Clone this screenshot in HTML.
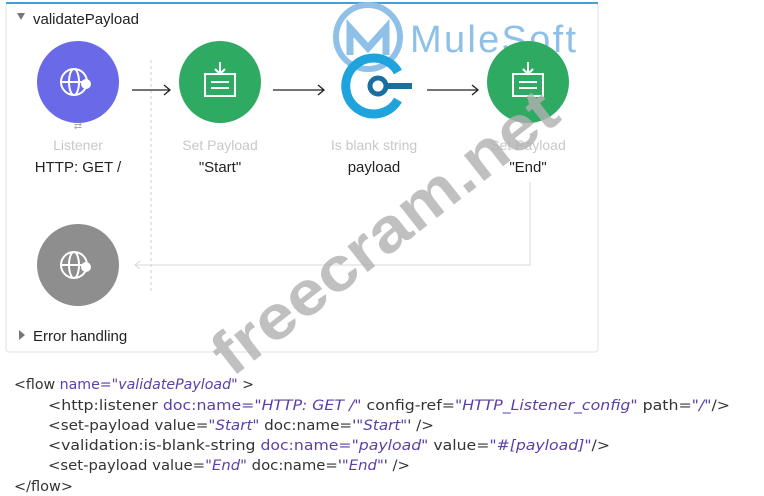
<!DOCTYPE html>
<html><head><meta charset="utf-8"><style>
html,body{margin:0;padding:0;background:#fff;}
svg{display:block}
.t{font-family:"Liberation Sans",sans-serif}
.c{font-family:"DejaVu Sans Condensed","Liberation Sans Narrow","Liberation Sans",sans-serif;font-size:14px}
</style></head><body>
<svg width="764" height="496" viewBox="0 0 764 496" xmlns="http://www.w3.org/2000/svg">
<rect x="6" y="3" width="592" height="349" rx="3" fill="#fff" stroke="#e2e2e2"/>
<line x1="6" y1="3" x2="598" y2="3" stroke="#4a9ed8" stroke-width="2"/>
<path d="M17 13 L25 13 L21 20 Z" fill="#777"/>
<text x="33" y="24" class="t" font-size="15" fill="#222">validatePayload</text>
<circle cx="368" cy="37" r="32" fill="none" stroke="#8fc0e8" stroke-width="6"/>
<path d="M350 55 L350 28 L368 48 L386 28 L386 55" fill="none" stroke="#8fc0e8" stroke-width="7"/>
<text x="410" y="52" class="t" font-size="38" fill="#8fc0e8" textLength="166">MuleSoft</text>
<line x1="151" y1="60" x2="151" y2="292" stroke="#ccc" stroke-dasharray="3,3"/>
<circle cx="78" cy="82" r="41" fill="#6a6ae8"/>
<circle cx="74" cy="82" r="13" fill="none" stroke="#fff" stroke-width="2"/>
<ellipse cx="74" cy="82" rx="5" ry="13" fill="none" stroke="#fff" stroke-width="2"/>
<line x1="61" y1="82" x2="87" y2="82" stroke="#fff" stroke-width="2"/>
<circle cx="86" cy="84" r="5" fill="#fff"/>
<text x="78" y="129" class="t" font-size="10" fill="#aaa" text-anchor="middle">⇄</text>
<circle cx="220" cy="82" r="41" fill="#2faa62"/>
<rect x="205" y="74" width="30" height="22" fill="none" stroke="#fff" stroke-width="2"/>
<line x1="211" y1="82" x2="229" y2="82" stroke="#fff" stroke-width="2"/>
<line x1="211" y1="88" x2="229" y2="88" stroke="#fff" stroke-width="2"/>
<path d="M220 62 L220 74 M215 69 L220 74 L225 69" stroke="#fff" stroke-width="2" fill="none"/>
<path d="M398 72 A28 28 0 1 0 398 100" fill="none" stroke="#1fa3dc" stroke-width="9"/>
<circle cx="378" cy="86" r="8" fill="#fff" stroke="#1a6fa0" stroke-width="5"/>
<line x1="386" y1="86" x2="412" y2="86" stroke="#1a6fa0" stroke-width="6"/>
<circle cx="528" cy="82" r="41" fill="#2faa62"/>
<rect x="513" y="74" width="30" height="22" fill="none" stroke="#fff" stroke-width="2"/>
<line x1="519" y1="82" x2="537" y2="82" stroke="#fff" stroke-width="2"/>
<line x1="519" y1="88" x2="537" y2="88" stroke="#fff" stroke-width="2"/>
<path d="M528 62 L528 74 M523 69 L528 74 L533 69" stroke="#fff" stroke-width="2" fill="none"/>
<g stroke="#222" stroke-width="1.3" fill="none">
<line x1="132" y1="90" x2="170" y2="90"/><path d="M164 85 L170 90 L164 95"/>
<line x1="273" y1="90" x2="324" y2="90"/><path d="M318 85 L324 90 L318 95"/>
<line x1="427" y1="90" x2="478" y2="90"/><path d="M472 85 L478 90 L472 95"/>
</g>
<g class="t" text-anchor="middle">
<text x="78" y="150" font-size="14" fill="#c8c8c8">Listener</text>
<text x="78" y="172" font-size="15" fill="#222">HTTP: GET /</text>
<text x="220" y="150" font-size="14" fill="#c8c8c8">Set Payload</text>
<text x="220" y="172" font-size="15" fill="#222">"Start"</text>
<text x="374" y="150" font-size="14" fill="#c8c8c8">Is blank string</text>
<text x="374" y="172" font-size="15" fill="#222">payload</text>
<text x="528" y="150" font-size="14" fill="#c8c8c8">Set Payload</text>
<text x="528" y="172" font-size="15" fill="#222">"End"</text>
</g>
<path d="M530 182 L530 265 L135 265" fill="none" stroke="#d8d8d8"/>
<path d="M140 261 L135 265 L140 269" fill="none" stroke="#d8d8d8"/>
<circle cx="78" cy="265" r="41" fill="#8e8e8e"/>
<circle cx="74" cy="265" r="13" fill="none" stroke="#fff" stroke-width="2"/>
<ellipse cx="74" cy="265" rx="5" ry="13" fill="none" stroke="#fff" stroke-width="2"/>
<line x1="61" y1="265" x2="87" y2="265" stroke="#fff" stroke-width="2"/>
<circle cx="86" cy="267" r="5" fill="#fff"/>
<path d="M19 330 L25 335 L19 340 Z" fill="#777"/>
<text x="33" y="341" class="t" font-size="15" fill="#222">Error handling</text>
<g class="c" fill="#333">
<text x="14" y="389" textLength="240" lengthAdjust="spacingAndGlyphs">&lt;flow <tspan fill="#5b3fa8">name=</tspan><tspan fill="#5b3fa8" font-style="italic">"validatePayload"</tspan> &gt;</text>
<text x="48" y="410" textLength="682" lengthAdjust="spacingAndGlyphs">&lt;http:listener <tspan fill="#5b3fa8">doc:name=</tspan><tspan fill="#5b3fa8" font-style="italic">"HTTP: GET /"</tspan> config-ref=<tspan fill="#5b3fa8" font-style="italic">"HTTP_Listener_config"</tspan> path=<tspan fill="#5b3fa8" font-style="italic">"/"</tspan>/&gt;</text>
<text x="48" y="430" textLength="386" lengthAdjust="spacingAndGlyphs">&lt;set-payload value=<tspan fill="#5b3fa8" font-style="italic">"Start"</tspan> doc:name='<tspan fill="#5b3fa8" font-style="italic">"Start"</tspan>' /&gt;</text>
<text x="48" y="450" textLength="562" lengthAdjust="spacingAndGlyphs">&lt;validation:is-blank-string <tspan fill="#5b3fa8">doc:name=</tspan><tspan fill="#5b3fa8" font-style="italic">"payload"</tspan> value=<tspan fill="#5b3fa8" font-style="italic">"#[payload]"</tspan>/&gt;</text>
<text x="48" y="470" textLength="362" lengthAdjust="spacingAndGlyphs">&lt;set-payload value=<tspan fill="#5b3fa8" font-style="italic">"End"</tspan> doc:name='<tspan fill="#5b3fa8" font-style="italic">"End"</tspan>' /&gt;</text>
<text x="14" y="491" textLength="59" lengthAdjust="spacingAndGlyphs">&lt;/flow&gt;</text>
</g>
<text x="0" y="0" class="t" font-size="62" font-weight="bold" fill="#b0b0b0" fill-opacity="0.8" textLength="420" lengthAdjust="spacingAndGlyphs" transform="translate(232,378) rotate(-38)">freecram.net</text>
</svg>
</body></html>
